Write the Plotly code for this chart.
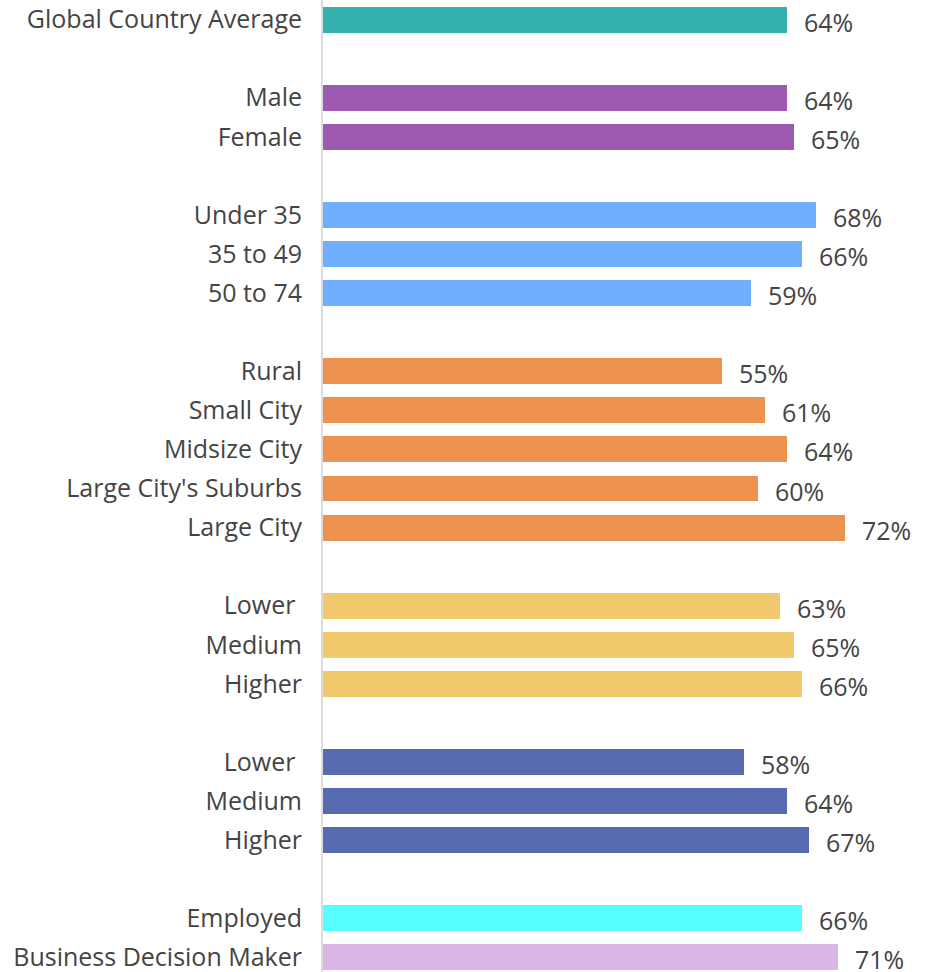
import plotly.graph_objects as go

# Category labels (None marks a spacer row between groups)
labels = [
    "Global Country Average", None,
    "Male", "Female", None,
    "Under 35", "35 to 49", "50 to 74", None,
    "Rural", "Small City", "Midsize City", "Large City's Suburbs", "Large City", None,
    "Lower\u00a0", "Medium", "Higher", None,
    "Lower\u00a0", "Medium", "Higher", None,
    "Employed", "Business Decision Maker",
]
values = [
    64, None,
    64, 65, None,
    68, 66, 59, None,
    55, 61, 64, 60, 72, None,
    63, 65, 66, None,
    58, 64, 67, None,
    66, 71,
]
colors = [
    "#34B1AF", None,
    "#9B5AB0", "#9B5AB0", None,
    "#70AEFF", "#70AEFF", "#70AEFF", None,
    "#EE924F", "#EE924F", "#EE924F", "#EE924F", "#EE924F", None,
    "#F2CA6E", "#F2CA6E", "#F2CA6E", None,
    "#586BB0", "#586BB0", "#586BB0", None,
    "#55FFFF", "#DAB6E6",
]

rows = [i for i, l in enumerate(labels) if l is not None]
xs = [values[i] for i in rows]
cols = [colors[i] for i in rows]
ticks = [labels[i] for i in rows]

FONT = "Open Sans"
TXT = "#444444"
SIZE = 25

fig = go.Figure(go.Bar(
    x=xs, y=rows, orientation="h",
    marker=dict(color=cols, line=dict(width=0)),
    width=0.665,
    hoverinfo="skip",
))

for r, v in zip(rows, xs):
    fig.add_annotation(
        x=v, y=r, text=f"{v}%", showarrow=False,
        xanchor="left", yanchor="middle", xshift=15, yshift=-2,
        font=dict(family=FONT, size=SIZE, color=TXT),
    )

pitch = 39.08
fig.update_layout(
    width=938, height=972,
    margin=dict(l=323, r=0, t=0, b=0),
    paper_bgcolor="white", plot_bgcolor="white",
    showlegend=False,
    bargap=0,
    xaxis=dict(range=[0, 615 / 7.25], visible=False, fixedrange=True),
    yaxis=dict(
        range=[-0.5 + 972 / pitch, -0.5],
        tickmode="array", tickvals=rows, ticktext=ticks,
        tickfont=dict(family=FONT, size=SIZE, color=TXT),
        ticklabeloverflow="allow",
        showline=True, linecolor="#DCDCDC", linewidth=2,
        showgrid=False, zeroline=False, ticks="",
        ticklabelstandoff=14,
        fixedrange=True,
    ),
)

fig.write_html("out.html")
